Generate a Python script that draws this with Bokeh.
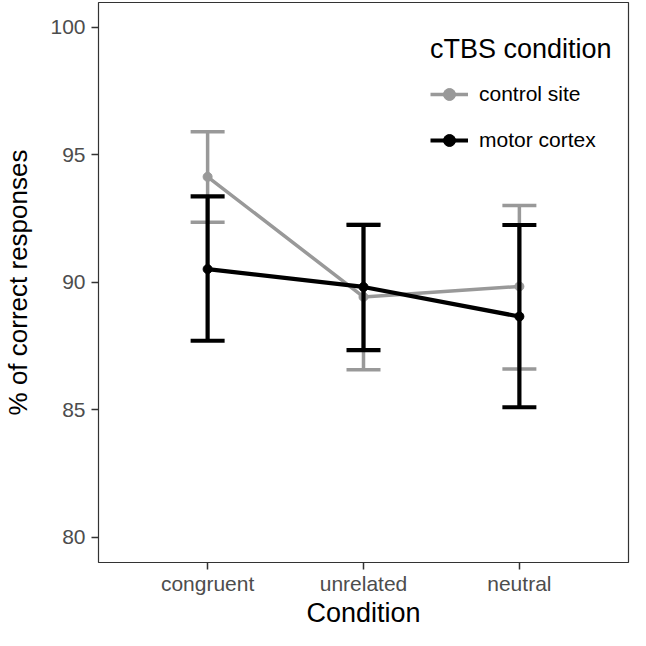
from bokeh.plotting import figure
from bokeh.models import (ColumnDataSource, FactorRange, Range1d, Legend, LegendItem,
                          FixedTicker)
from bokeh.embed import file_html
from bokeh.resources import INLINE

conditions = ["congruent", "unrelated", "neutral"]
control_mean = [94.13, 89.42, 89.83]
control_lower = [92.35, 86.56, 86.59]
control_upper = [95.90, 92.28, 93.01]
motor_mean = [90.51, 89.81, 88.65]
motor_lower = [87.70, 87.33, 85.09]
motor_upper = [93.36, 92.24, 92.24]
y_ticks = [80, 85, 90, 95, 100]
series_labels = ["control site", "motor cortex"]
legend_title = "cTBS condition"

FONT = "Liberation Sans"

p = figure(width=630, height=630, output_backend="svg", toolbar_location=None,
           x_range=FactorRange(*conditions, range_padding=0.2, range_padding_units="absolute"),
           y_range=Range1d(79.0, 100.97),
           min_border_left=87, min_border_right=2, min_border_top=2, min_border_bottom=60)

p.background_fill_color = "white"
p.border_fill_color = "white"
p.outline_line_color = "#333333"
p.outline_line_width = 1.2
p.xgrid.visible = False
p.ygrid.visible = False

for ax in (p.xaxis[0], p.yaxis[0]):
    ax.axis_line_color = None
    ax.major_tick_line_color = "#333333"
    ax.major_tick_line_width = 1.5
    ax.major_tick_out = 7
    ax.major_tick_in = 0
    ax.minor_tick_line_color = None
    ax.major_label_text_font = FONT
    ax.major_label_text_font_size = "21px"
    ax.major_label_text_color = "#4D4D4D"
    ax.axis_label_text_font = FONT
    ax.axis_label_text_font_size = "27px"
    ax.axis_label_text_font_style = "normal"
    ax.axis_label_text_color = "black"

p.xaxis.axis_label = "Condition"
p.xaxis.major_label_standoff = 2
p.xaxis.axis_label_standoff = 0
p.yaxis.axis_label = "% of correct responses"
p.yaxis.axis_label_text_font_size = "26px"
p.yaxis.ticker = FixedTicker(ticks=y_ticks)
p.yaxis.major_label_standoff = 6
p.yaxis.axis_label_standoff = 14

GREY = "#999999"
BLACK = "#000000"

items = []
for label, mean, lo, hi, col, lw in [
        (series_labels[0], control_mean, control_lower, control_upper, GREY, 3.5),
        (series_labels[1], motor_mean, motor_lower, motor_upper, BLACK, 4.2)]:
    src = ColumnDataSource(dict(cond=conditions, mean=mean, lower=lo, upper=hi))
    p.segment(x0="cond", y0="lower", x1="cond", y1="upper", source=src,
              line_color=col, line_width=lw)
    p.scatter(x="cond", y="upper", source=src, marker="dash", size=34,
              line_color=col, line_width=lw)
    p.scatter(x="cond", y="lower", source=src, marker="dash", size=34,
              line_color=col, line_width=lw)
    ln = p.line(x="cond", y="mean", source=src, line_color=col, line_width=lw)
    pts = p.scatter(x="cond", y="mean", source=src, marker="circle", size=9,
                    fill_color=col, line_color=col)
    items.append(LegendItem(label=label, renderers=[ln, pts]))

legend = Legend(items=items, location=(332, 407), title=legend_title,
                title_text_font=FONT, title_text_font_size="27px",
                title_text_font_style="normal", title_text_color="black",
                title_standoff=14,
                label_text_font=FONT, label_text_font_size="21px",
                label_text_color="black",
                glyph_width=38, glyph_height=30, label_height=30, label_standoff=11,
                spacing=16, padding=0, margin=0,
                border_line_color=None, background_fill_alpha=0)
p.add_layout(legend, "center")

open("out.html", "w").write(file_html(p, INLINE))
